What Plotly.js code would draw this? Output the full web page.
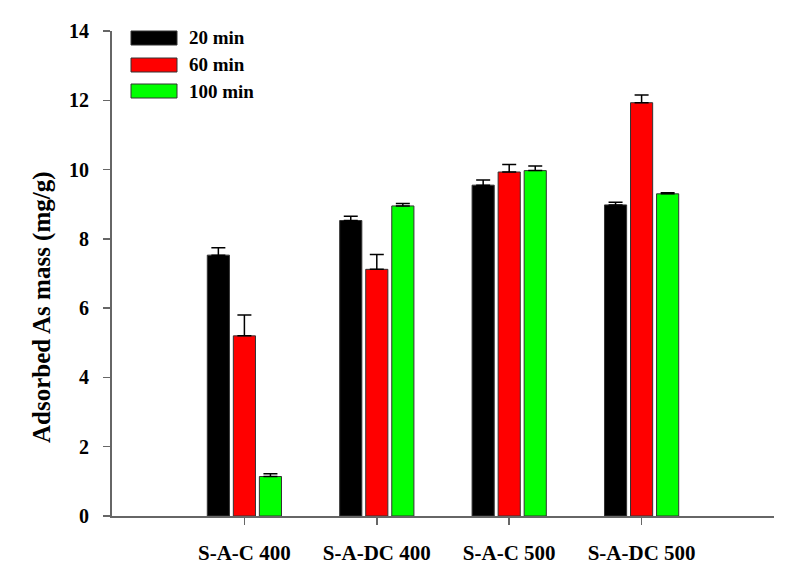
<!DOCTYPE html>
<html>
<head>
<meta charset="utf-8">
<script src="https://cdn.plot.ly/plotly-3.0.1.min.js"></script>
<style>html,body{margin:0;padding:0;background:#fff;}#chart{width:804px;height:573px;}</style>
</head>
<body>
<div id="chart"></div>
<script>
const categories = ["S-A-C 400", "S-A-DC 400", "S-A-C 500", "S-A-DC 500"];
const seriesNames = ["20 min", "60 min", "100 min"];
const seriesColors = ["#000000", "#ff0000", "#00ff00"];
const values20 = [7.53, 8.53, 9.55, 8.98];
const values60 = [5.20, 7.12, 9.93, 11.93];
const values100 = [1.14, 8.95, 9.97, 9.30];
const errors20 = [0.21, 0.12, 0.15, 0.08];
const errors60 = [0.60, 0.43, 0.22, 0.22];
const errors100 = [0.08, 0.07, 0.13, 0.03];
const yTickVals = [0, 2, 4, 6, 8, 10, 12, 14];

const allValues = [values20, values60, values100];
const allErrors = [errors20, errors60, errors100];
const FONT = "Liberation Serif, Times New Roman, serif";

const traces = allValues.map((vals, i) => ({
  type: "bar",
  name: seriesNames[i],
  x: categories,
  y: vals,
  marker: {color: seriesColors[i], line: {color: "#333333", width: 1}},
  error_y: {
    type: "data",
    array: allErrors[i],
    arrayminus: allErrors[i].map(() => 0),
    symmetric: false,
    color: "#000000",
    thickness: 1.5,
    width: 7
  },
  showlegend: false
}));

// custom legend (long rectangles like the reference)
const shapes = [];
const annotations = [];
const legRowY = [38, 65, 91];
const plotTop = 31, plotBottom = 516, plotLeft = 112, plotRight = 774;
const py = y => (plotBottom - y) / (plotBottom - plotTop);
const px = x => (x - plotLeft) / (plotRight - plotLeft);
seriesNames.forEach((name, i) => {
  shapes.push({
    type: "rect", xref: "paper", yref: "paper",
    x0: px(131), x1: px(177), y0: py(legRowY[i] + 7), y1: py(legRowY[i] - 7),
    fillcolor: seriesColors[i], line: {color: "#333333", width: 1}
  });
  annotations.push({
    xref: "paper", yref: "paper", x: px(187), y: py(legRowY[i]),
    xanchor: "left", yanchor: "middle", showarrow: false,
    text: name, font: {family: FONT, size: 19, color: "#000", weight: "bold"}
  });
});
annotations.push({
  xref: "paper", yref: "paper", x: px(42), y: py(307),
  xanchor: "center", yanchor: "middle", showarrow: false, textangle: -90,
  text: "Adsorbed As mass (mg/g)",
  font: {family: FONT, size: 25, color: "#000", weight: "bold"}
});

const layout = {
  width: 804, height: 573,
  margin: {l: plotLeft, r: 804 - plotRight, t: plotTop, b: 573 - plotBottom, pad: 0},
  paper_bgcolor: "#ffffff", plot_bgcolor: "#ffffff",
  barmode: "group", bargap: 0.41, bargroupgap: 0.15,
  xaxis: {
    type: "category", range: [-1, 4], showgrid: false, zeroline: false,
    showline: true, linecolor: "#666666", linewidth: 2,
    ticks: "outside", ticklen: 7, tickwidth: 1.5, tickcolor: "#666666",
    tickfont: {family: FONT, size: 21, color: "#000", weight: "bold"},
    ticklabelstandoff: 10
  },
  yaxis: {
    range: [0, 14], tickvals: yTickVals, showgrid: false, zeroline: false,
    showline: true, linecolor: "#666666", linewidth: 2,
    ticks: "outside", ticklen: 7, tickwidth: 1.5, tickcolor: "#666666",
    tickfont: {family: FONT, size: 20, color: "#000", weight: "bold"},
    ticklabelstandoff: 10
  },
  shapes: shapes,
  annotations: annotations,
  showlegend: false
};

Plotly.newPlot("chart", traces, layout, {displayModeBar: false, staticPlot: true});
</script>
</body>
</html>
